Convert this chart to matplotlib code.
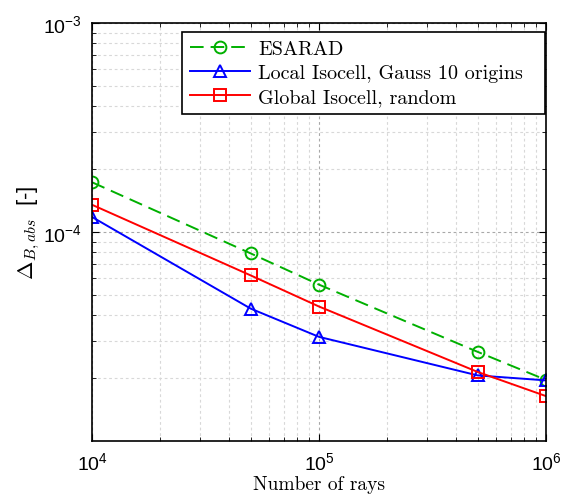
import numpy as np
import matplotlib
matplotlib.use('Agg')
import matplotlib.pyplot as plt

plt.rcParams['mathtext.fontset'] = 'cm'
plt.rcParams['font.family'] = ['Liberation Sans', 'DejaVu Sans']

# error vs. number of rays, read per solver
n_rays = [1e4, 5e4, 1e5, 5e5, 1e6]
esarad = [1.73e-4, 7.9e-5, 5.6e-5, 2.67e-5, 1.96e-5]
local_isocell = [1.18e-4, 4.3e-5, 3.15e-5, 2.06e-5, 1.95e-5]
global_isocell = [1.35e-4, 6.2e-5, 4.4e-5, 2.14e-5, 1.64e-5]

labels = ['ESARAD', 'Local Isocell, Gauss 10 origins', 'Global Isocell, random']


def main():
    fig = plt.figure(figsize=(5.69, 5.02), dpi=100)
    ax = fig.add_axes([0.1617, 0.1195, 0.7979, 0.8327])

    ax.loglog(n_rays, esarad, color='#00b000', ls=(0, (7, 3.6)), lw=1.4,
              marker='o', ms=8.5, mfc='none', mew=1.4, label=labels[0])
    ax.loglog(n_rays, local_isocell, color='#0000ff', lw=1.4,
              marker='^', ms=9, mfc='none', mew=1.4, label=labels[1])
    ax.loglog(n_rays, global_isocell, color='#ff0000', lw=1.4,
              marker='s', ms=8, mfc='none', mew=1.4, label=labels[2])

    ax.set_xlim(1e4, 1e6)
    ax.set_ylim(1e-5, 1e-3)
    ax.set_yticks([1e-4, 1e-3])
    ax.set_xticks([1e4, 1e5, 1e6])

    # darker grid on decades, pale one in between
    ax.grid(True, which='major', color='#a8a8a8', ls=(0, (2.5, 2.5)), lw=0.8)
    ax.grid(True, which='minor', color='#d8d8d8', ls=(0, (2.5, 2.5)), lw=0.8)
    ax.tick_params(which='both', direction='in', top=True, right=True)
    ax.tick_params(which='major', length=5, labelsize=14, pad=7)
    ax.tick_params(which='minor', length=3)
    ax.tick_params(axis='y', which='minor', labelleft=False)
    for side in ax.spines.values():
        side.set_linewidth(1.2)

    ax.set_xlabel('Number of rays', family='cmr10', fontsize=14, labelpad=2)
    ax.set_ylabel(r'$\Delta_{B,abs}$  [-]', fontsize=16)
    ax.yaxis.set_label_coords(-0.11, 0.5)

    leg = ax.legend(loc='upper left', bbox_to_anchor=(0.198, 0.5, 0.80, 0.4785),
                    mode='expand', prop={'family': 'cmr10', 'size': 14.5},
                    fancybox=False, framealpha=1, edgecolor='black',
                    handlelength=3.0, handletextpad=0.4, borderpad=0.4,
                    labelspacing=0.3, borderaxespad=0)
    leg.get_frame().set_linewidth(1.2)

    fig.savefig('out.png', dpi=100)


if __name__ == '__main__':
    main()
